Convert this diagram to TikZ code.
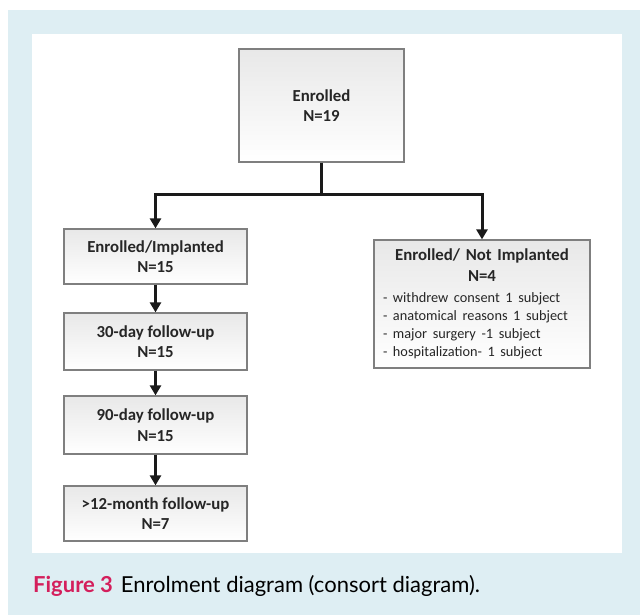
\documentclass[tikz,border=0pt]{standalone}
\usepackage{fontspec}
\setmainfont{Carlito}
\newfontfamily\capfont{Lato}
\usetikzlibrary{arrows.meta}
\definecolor{bgblue}{HTML}{DEEEF3}
\definecolor{capred}{HTML}{D41F5C}
\definecolor{boxedge}{HTML}{7F7F7F}
\definecolor{boxtop}{HTML}{E8E8E8}
\definecolor{ink}{HTML}{1A1A1A}
\definecolor{txt}{HTML}{262626}
\begin{document}
\begin{tikzpicture}[x=1pt,y=-1pt,
  stagebox/.style={draw=boxedge, line width=1.2pt, top color=boxtop, bottom color=white,
    inner sep=0pt, align=center, text=txt, font=\bfseries\fontsize{16.8}{20.5}\selectfont},
  flow/.style={draw=ink, line width=3pt, -{Triangle[width=11pt,length=10pt]}},
  link/.style={draw=ink, line width=3pt}]
\useasboundingbox (0,0) rectangle (640,615);
\fill[bgblue] (8,10) rectangle (640,615);
\fill[white] (32,34) rectangle (622,553);

\node[stagebox, minimum width=165pt, minimum height=113pt] (enr) at (321.5,105.5) {Enrolled\\N=19};
\node[stagebox, minimum width=183pt, minimum height=55pt] (imp) at (155.5,256.5) {Enrolled/Implanted\\N=15};
\node[stagebox, minimum width=183pt, minimum height=57pt] (d30) at (155.5,341.5) {30-day follow-up\\N=15};
\node[stagebox, minimum width=183pt, minimum height=58pt] (d90) at (155.5,425) {90-day follow-up\\N=15};
\node[stagebox, minimum width=183pt, minimum height=55pt] (m12) at (155.5,513.5) {>12-month follow-up\\N=7};
\node[stagebox, minimum width=216pt, minimum height=128pt, text width=198pt, align=left] (nimp) at (482,304)
  {\centering Enrolled/ Not Implanted\\N=4\par
   \raggedright\mdseries\fontsize{14.3}{18}\selectfont\vspace{3pt}
   - withdrew consent 1 subject\\
   - anatomical reasons 1 subject\\
   - major surgery -1 subject\\
   - hospitalization- 1 subject\par};

\coordinate (j) at (321.5,194);
\draw[link] (enr.south) -- (j);
\draw[flow] (j) -| (imp.north);
\draw[flow] (j) -| (nimp.north);
\draw[flow] (imp.south) -- (d30.north);
\draw[flow] (d30.south) -- (d90.north);
\draw[flow] (d90.south) -- (m12.north);

\node[anchor=base west, inner sep=0pt, font=\capfont\fontsize{22}{26}\selectfont] (cap) at (33,592)
  {\textcolor{capred}{\bfseries Figure 3}\hspace{8pt}Enrolment diagram (consort diagram).};
\end{tikzpicture}
\end{document}
